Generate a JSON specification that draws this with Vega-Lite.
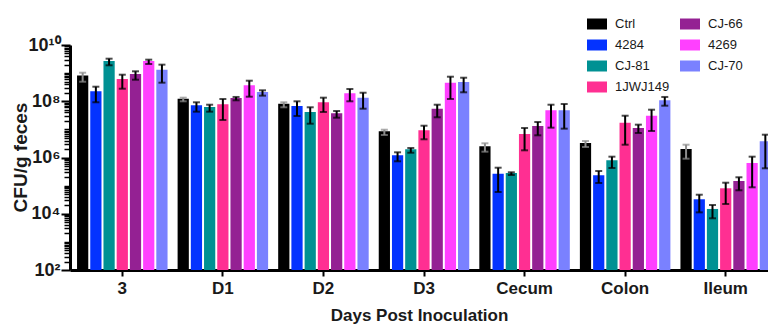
{
  "$schema": "https://vega.github.io/schema/vega-lite/v6.json",
  "autosize": {"type": "none"},
  "padding": {"left": 70, "top": 45, "right": 0, "bottom": 55},
  "width": 698,
  "height": 225,
  "config": {
    "view": {"stroke": "transparent"},
    "font": "Liberation Sans",
    "axis": {"grid": false}
  },
  "data": {"values": [
    {"day":"3","group":"Ctrl","mean":8.3e8,"lo":4.95e8,"hi":1.035e9},
    {"day":"3","group":"4284","mean":2.26e8,"lo":9.2e7,"hi":3.29e8},
    {"day":"3","group":"CJ-81","mean":2.7e9,"lo":1.9e9,"hi":3.26e9},
    {"day":"3","group":"1JWJ149","mean":6.18e8,"lo":2.79e8,"hi":8.79e8},
    {"day":"3","group":"CJ-66","mean":9.31e8,"lo":5.83e8,"hi":1.16e9},
    {"day":"3","group":"4269","mean":2.7e9,"lo":2.11e9,"hi":3.01e9},
    {"day":"3","group":"CJ-70","mean":1.32e9,"lo":4.57e8,"hi":2.0e9},
    {"day":"D1","group":"Ctrl","mean":1.23e8,"lo":9.95e7,"hi":1.34e8},
    {"day":"D1","group":"4284","mean":7.18e7,"lo":4.26e7,"hi":9.18e7},
    {"day":"D1","group":"CJ-81","mean":6.25e7,"lo":4.26e7,"hi":7.53e7},
    {"day":"D1","group":"1JWJ149","mean":7.8e7,"lo":2.15e7,"hi":1.2e8},
    {"day":"D1","group":"CJ-66","mean":1.31e8,"lo":1.08e8,"hi":1.42e8},
    {"day":"D1","group":"4269","mean":3.69e8,"lo":1.45e8,"hi":5.38e8},
    {"day":"D1","group":"CJ-70","mean":2.13e8,"lo":1.58e8,"hi":2.45e8},
    {"day":"D2","group":"Ctrl","mean":8.18e7,"lo":6.1e7,"hi":9.18e7},
    {"day":"D2","group":"4284","mean":6.78e7,"lo":2.99e7,"hi":9.95e7},
    {"day":"D2","group":"CJ-81","mean":4.15e7,"lo":1.59e7,"hi":6.1e7},
    {"day":"D2","group":"1JWJ149","mean":9.18e7,"lo":4.15e7,"hi":1.34e8},
    {"day":"D2","group":"CJ-66","mean":3.73e7,"lo":2.6e7,"hi":4.5e7},
    {"day":"D2","group":"4269","mean":1.92e8,"lo":9.95e7,"hi":2.73e8},
    {"day":"D2","group":"CJ-70","mean":1.34e8,"lo":5.43e7,"hi":2.01e8},
    {"day":"D3","group":"Ctrl","mean":8.53e6,"lo":6.31e6,"hi":9.73e6},
    {"day":"D3","group":"4284","mean":1.2e6,"lo":7.33e5,"hi":1.53e6},
    {"day":"D3","group":"CJ-81","mean":1.96e6,"lo":1.48e6,"hi":2.18e6},
    {"day":"D3","group":"1JWJ149","mean":9.27e6,"lo":4.44e6,"hi":1.35e7},
    {"day":"D3","group":"CJ-66","mean":5.43e7,"lo":2.69e7,"hi":7.53e7},
    {"day":"D3","group":"4269","mean":4.57e8,"lo":1.2e8,"hi":7.46e8},
    {"day":"D3","group":"CJ-70","mean":4.83e8,"lo":2.08e8,"hi":6.87e8},
    {"day":"Cecum","group":"Ctrl","mean":2.5e6,"lo":1.61e6,"hi":3.2e6},
    {"day":"Cecum","group":"4284","mean":2.65e5,"lo":5.93e4,"hi":4.34e5},
    {"day":"Cecum","group":"CJ-81","mean":2.81e5,"lo":2.39e5,"hi":2.98e5},
    {"day":"Cecum","group":"1JWJ149","mean":6.86e6,"lo":1.8e6,"hi":1.12e7},
    {"day":"Cecum","group":"CJ-66","mean":1.32e7,"lo":6.15e6,"hi":1.83e7},
    {"day":"Cecum","group":"4269","mean":4.76e7,"lo":1.15e7,"hi":7.53e7},
    {"day":"Cecum","group":"CJ-70","mean":4.76e7,"lo":1.06e7,"hi":7.98e7},
    {"day":"Colon","group":"Ctrl","mean":3.28e6,"lo":2.36e6,"hi":3.86e6},
    {"day":"Colon","group":"4284","mean":2.33e5,"lo":1.24e5,"hi":3.31e5},
    {"day":"Colon","group":"CJ-81","mean":7.94e5,"lo":4.24e5,"hi":1.07e6},
    {"day":"Colon","group":"1JWJ149","mean":1.73e7,"lo":2.85e6,"hi":3.06e7},
    {"day":"Colon","group":"CJ-66","mean":1.12e7,"lo":7.43e6,"hi":1.47e7},
    {"day":"Colon","group":"4269","mean":3.06e7,"lo":8.75e6,"hi":5.01e7},
    {"day":"Colon","group":"CJ-70","mean":1.08e8,"lo":6.95e7,"hi":1.42e8},
    {"day":"Ileum","group":"Ctrl","mean":2.0e6,"lo":9.06e5,"hi":2.85e6},
    {"day":"Ileum","group":"4284","mean":3.27e4,"lo":1.12e4,"hi":4.75e4},
    {"day":"Ileum","group":"CJ-81","mean":1.48e4,"lo":6.89e3,"hi":2.05e4},
    {"day":"Ileum","group":"1JWJ149","mean":8.04e4,"lo":2.22e4,"hi":1.27e5},
    {"day":"Ileum","group":"CJ-66","mean":1.46e5,"lo":6.82e4,"hi":1.98e5},
    {"day":"Ileum","group":"4269","mean":6.37e5,"lo":8.71e4,"hi":1.07e6},
    {"day":"Ileum","group":"CJ-70","mean":3.77e6,"lo":4.13e5,"hi":6.47e6}
  ]},
  "encoding": {
    "x": {
      "field": "day", "type": "nominal",
      "sort": ["3","D1","D2","D3","Cecum","Colon","Ileum"],
      "scale": {"paddingInner": 0.1, "paddingOuter": 0.07, "range": [0, 708]},
      "axis": {
        "title": "Days Post Inoculation",
        "titleFont": "Liberation Sans", "titleFontSize": 17, "titleFontWeight": "bold", "titleColor": "#1a1a1a",
        "titleX": 349, "titleY": 45, "titleBaseline": "middle", "titleAlign": "center",
        "labelAngle": 0, "labelFontSize": 17, "labelFontWeight": "bold", "labelColor": "#1a1a1a",
        "labelPadding": 4, "tickSize": 6, "tickWidth": 2, "tickColor": "black",
        "domainColor": "black", "domainWidth": 3, "bandPosition": 0.5
      }
    },
    "xOffset": {
      "field": "group", "type": "nominal",
      "sort": ["Ctrl","4284","CJ-81","1JWJ149","CJ-66","4269","CJ-70"],
      "scale": {"paddingInner": 0.15, "paddingOuter": 0}
    }
  },
  "layer": [
    {
      "mark": {"type": "bar"},
      "encoding": {
        "y": {
          "field": "mean", "type": "quantitative",
          "scale": {"type": "log", "domain": [100, 1e10], "nice": false},
          "axis": {
            "orient": "left", "title": null, "labels": false, "domain": false,
            "values": [200,300,400,500,600,700,800,900,2000,3000,4000,5000,6000,7000,8000,9000,20000,30000,40000,50000,60000,70000,80000,90000,200000,300000,400000,500000,600000,700000,800000,900000,2000000,3000000,4000000,5000000,6000000,7000000,8000000,9000000,20000000,30000000,40000000,50000000,60000000,70000000,80000000,90000000,200000000,300000000,400000000,500000000,600000000,700000000,800000000,900000000,2000000000,3000000000,4000000000,5000000000,6000000000,7000000000,8000000000,9000000000,1000,100000,10000000,1000000000],
            "ticks": true, "tickSize": 6, "tickWidth": 1.5, "tickColor": "black", "tickOpacity": 1
          }
        },
        "y2": {"datum": 100},
        "color": {
          "field": "group", "type": "nominal",
          "scale": {
            "domain": ["Ctrl","4284","CJ-81","1JWJ149","CJ-66","4269","CJ-70"],
            "range": ["#000000","#0433FF","#009193","#FF2F92","#942193","#FF40FF","#7A81FF"]
          },
          "legend": {
            "title": null, "orient": "none", "legendX": 517, "legendY": -31,
            "columns": 2, "columnPadding": 10, "rowPadding": 4, "padding": 0,
            "symbolType": "M-1,-0.55L1,-0.55L1,0.55L-1,0.55Z", "symbolSize": 400,
            "symbolStrokeWidth": 0, "symbolOpacity": 1,
            "labelFont": "Liberation Sans", "labelFontSize": 13, "labelColor": "#1a1a1a", "labelOffset": 8
          }
        }
      }
    },
    {
      "mark": {"type": "rule", "strokeWidth": 2},
      "encoding": {
        "y": {
          "field": "lo", "type": "quantitative",
          "axis": {
            "orient": "left",
            "title": "CFU/g feces",
            "titleFont": "Liberation Sans", "titleFontSize": 19, "titleFontWeight": "bold", "titleColor": "#1a1a1a",
            "titleX": -50, "titleY": 112, "titleBaseline": "middle", "titleAngle": -90,
            "values": [100, 10000, 1000000, 100000000, 10000000000],
            "labelExpr": "datum.value >= 1e10 ? '10¹⁰' : datum.value >= 1e8 ? '10⁸' : datum.value >= 1e6 ? '10⁶' : datum.value >= 1e4 ? '10⁴' : '10²'",
            "labelFontSize": 18, "labelFontWeight": "bold", "labelColor": "#1a1a1a", "labelPadding": 1,
            "tickSize": 9, "tickWidth": 2, "tickColor": "black",
            "domainColor": "black", "domainWidth": 3
          }
        },
        "y2": {"field": "hi"},
        "color": {"condition": {"test": "datum.group === 'Ctrl'", "value": "#8c8c8c"}, "value": "#000000"}
      }
    },
    {
      "mark": {"type": "tick", "size": 7, "thickness": 2},
      "encoding": {
        "y": {"field": "lo", "type": "quantitative", "axis": null},
        "color": {"condition": {"test": "datum.group === 'Ctrl'", "value": "#8c8c8c"}, "value": "#000000"}
      }
    },
    {
      "mark": {"type": "tick", "size": 7, "thickness": 2},
      "encoding": {
        "y": {"field": "hi", "type": "quantitative", "axis": null},
        "color": {"condition": {"test": "datum.group === 'Ctrl'", "value": "#8c8c8c"}, "value": "#000000"}
      }
    }
  ],
  "resolve": {"axis": {"y": "independent"}}
}
